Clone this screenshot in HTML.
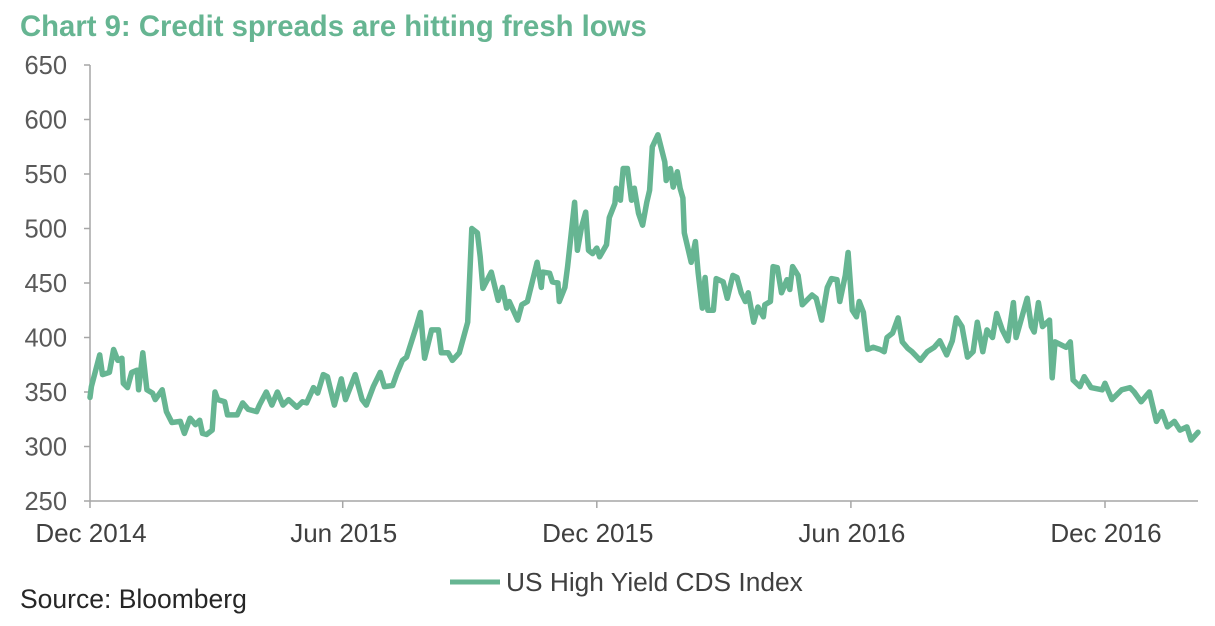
<!DOCTYPE html>
<html><head><meta charset="utf-8"><style>
body{margin:0;background:#fff;width:1215px;height:621px;overflow:hidden;font-family:"Liberation Sans",sans-serif}
</style></head><body>
<svg width="1215" height="621" xmlns="http://www.w3.org/2000/svg">
<text x="20" y="36" font-size="29.3" font-weight="bold" fill="#66b592">Chart 9: Credit spreads are hitting fresh lows</text>
<g id="axes"></g>
<path id="line" fill="none" stroke="#66b592" stroke-width="5.5" stroke-linejoin="round" stroke-linecap="round"/>
<line x1="450" y1="582" x2="500" y2="582" stroke="#66b592" stroke-width="5"/>
<text x="506" y="591" font-size="26.3" fill="#404040">US High Yield CDS Index</text>
<text x="20" y="608" font-size="26.5" fill="#262626">Source: Bloomberg</text>
</svg>
<script>
const yTicks=[250,300,350,400,450,500,550,600,650];
const xTickDays=[0,182,365,548,731];
const xTickLabels=["Dec 2014","Jun 2015","Dec 2015","Jun 2016","Dec 2016"];
const days=[0,1,7,9,14,17,20,23,24,27,30,34,35,38,41,45,47,52,55,59,65,68,72,76,79,81,84,88,90,92,97,99,106,110,114,120,122,127,131,135,139,143,149,153,156,161,164,168,171,176,181,184,191,196,199,204,209,212,218,221,225,228,235,238,241,246,251,253,258,261,266,269,272,275,279,281,283,289,294,297,300,302,308,311,315,322,325,326,331,333,337,338,342,344,349,351,354,357,359,362,365,367,372,374,378,379,382,384,387,390,392,395,398,401,403,405,409,414,415,418,420,423,425,427,428,431,433,436,438,441,443,445,449,451,456,459,463,466,469,472,474,478,481,485,486,490,492,495,498,502,504,506,510,513,520,523,527,531,534,538,540,544,546,549,552,554,557,560,564,569,572,574,578,582,585,589,592,598,603,608,612,617,621,624,628,632,636,639,643,646,650,653,657,661,665,667,675,678,680,683,686,691,693,695,703,706,708,713,716,721,729,731,736,743,749,752,757,763,768,772,776,781,785,790,793,798];
const spreads=[345,355,384,366,368,389,379,381,358,354,368,370,352,386,352,349,343,352,332,322,323,312,326,320,324,312,311,315,350,343,341,329,329,340,334,332,338,350,338,350,338,343,336,341,340,354,349,366,364,338,362,343,366,343,338,355,368,355,356,367,379,382,410,423,381,407,407,386,386,379,386,400,414,500,496,474,445,460,434,446,427,433,416,430,433,469,446,460,459,451,450,433,446,465,524,480,501,515,480,477,482,474,485,510,523,537,526,555,555,526,537,514,503,524,535,575,586,561,544,555,538,552,537,528,496,480,469,488,459,427,455,425,425,454,451,436,457,455,441,433,441,414,428,419,430,433,465,464,441,453,444,465,457,430,439,436,416,446,454,453,433,457,478,425,419,433,423,389,391,389,387,400,404,418,396,390,387,379,387,391,397,384,397,418,410,382,387,414,387,407,400,422,407,397,432,400,436,410,405,432,410,416,363,396,391,396,361,355,364,354,352,358,343,352,354,350,341,350,323,332,318,323,315,318,306,313];
const X=d=>90+d*(1015/731), Y=v=>501-(v-250)*1.09;
const NS="http://www.w3.org/2000/svg", ax=document.getElementById('axes');
function mk(t,a){const e=document.createElementNS(NS,t);for(const k in a)e.setAttribute(k,a[k]);ax.appendChild(e);return e;}
let l=mk('line',{x1:90,y1:Y(650),x2:90,y2:501,stroke:'#a6a6a6','stroke-width':1.5});


l=mk('line',{x1:90,y1:501,x2:1198,y2:501,stroke:'#a6a6a6','stroke-width':1.5});


yTicks.forEach(v=>{
 const t=mk('line',{x1:84,y1:Y(v),x2:90,y2:Y(v),stroke:'#a6a6a6','stroke-width':1.5});
 
 
 const s=mk('text',{x:67,y:Y(v)+9,'font-size':25.5,fill:'#595959','text-anchor':'end'});
 s.textContent=v;
 
 
});
xTickDays.forEach((d,i)=>{
 const t=mk('line',{x1:X(d),y1:501,x2:X(d),y2:508,stroke:'#a6a6a6','stroke-width':1.5});
 
 
 const s=mk('text',{x:X(d)+1,y:542,'font-size':26,fill:'#404040','text-anchor':'middle'});
 s.textContent=xTickLabels[i];
 
 
});
document.getElementById('line').setAttribute('d',days.map((d,i)=>(i?'L':'M')+X(d).toFixed(1)+','+Y(spreads[i]).toFixed(1)).join(''));
</script>
</body></html>
